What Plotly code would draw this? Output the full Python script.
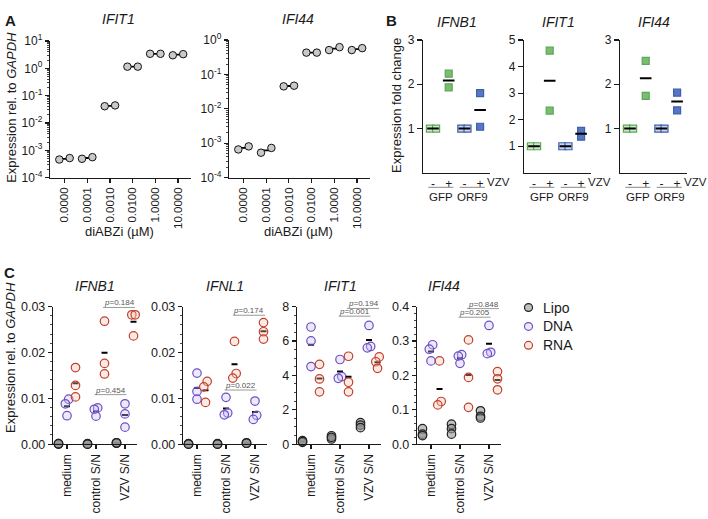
import numpy as np
import plotly.graph_objects as go

W, H = 708, 519
FONT = "Arial, Liberation Sans, Helvetica, sans-serif"
INK = "#1a1a1a"

# ---------------- Panel A data ----------------
a_conc_labels = ["0.0000", "0.0001", "0.0010", "0.0100", "1.0000", "10.0000"]
a_ifit1_rep1 = [4.6e-4, 4.9e-4, 0.041, 1.15, 3.4, 3.0]
a_ifit1_rep2 = [5.2e-4, 5.6e-4, 0.044, 1.15, 3.4, 3.3]
a_ifi44_rep1 = [6.6e-4, 5.3e-4, 0.045, 0.43, 0.51, 0.51]
a_ifi44_rep2 = [8.1e-4, 7.3e-4, 0.047, 0.43, 0.62, 0.58]

# ---------------- Panel B data ----------------
b_vzv_labels = ["-", "+", "-", "+"]
b_constructs = ["GFP", "ORF9"]
b_ifnb1_rep1 = [1.0, 2.24, 1.0, 1.80]
b_ifnb1_rep2 = [1.0, 1.93, 1.0, 1.04]
b_ifit1_rep1 = [1.0, 4.60, 1.0, 1.58]
b_ifit1_rep2 = [1.0, 2.34, 1.0, 1.36]
b_ifi44_rep1 = [1.0, 2.53, 1.0, 1.81]
b_ifi44_rep2 = [1.0, 1.74, 1.0, 1.41]

# ---------------- Panel C data ----------------
c_groups = ["medium", "control S/N", "VZV S/N"]
c_conditions = ["Lipo", "DNA", "RNA"]
c_ifnb1_lipo = [[0.0001, 0.0, 0.0001], [0.0001, 0.0, 0.0], [0.0003, 0.0002, 0.0003]]
c_ifnb1_dna = [[0.0098, 0.0088, 0.0062], [0.0079, 0.0076, 0.0061], [0.0088, 0.0066, 0.0037]]
c_ifnb1_rna = [[0.0167, 0.0128, 0.0103], [0.0268, 0.0176, 0.0153], [0.0282, 0.0282, 0.0236]]
c_ifnl1_lipo = [[0.0, 0.0001, 0.0], [0.0, 0.0001, 0.0], [0.0003, 0.0002, 0.0002]]
c_ifnl1_dna = [[0.0155, 0.0115, 0.0098], [0.0102, 0.0068, 0.0064], [0.0094, 0.0063, 0.0054]]
c_ifnl1_rna = [[0.0137, 0.0125, 0.0091], [0.0224, 0.0154, 0.0144], [0.0265, 0.0245, 0.0229]]
c_ifit1_lipo = [[0.20, 0.10, 0.15], [0.49, 0.30, 0.40], [1.25, 1.11, 0.96]]
c_ifit1_dna = [[6.81, 6.00, 4.51], [4.92, 3.93, 3.83], [6.90, 5.68, 5.60]]
c_ifit1_rna = [[4.64, 3.79, 3.04], [5.11, 3.60, 3.04], [5.07, 4.79, 4.41]]
c_ifi44_lipo = [[0.045, 0.029, 0.025], [0.058, 0.045, 0.029], [0.097, 0.081, 0.076]]
c_ifi44_dna = [[0.289, 0.276, 0.242], [0.260, 0.256, 0.235], [0.345, 0.267, 0.263]]
c_ifi44_rna = [[0.242, 0.124, 0.114], [0.303, 0.194, 0.107], [0.211, 0.190, 0.158]]
c_pvalues_ifnb1 = [("0.184", "RNA", 0.0298), ("0.454", "DNA", 0.0108)]
c_pvalues_ifnl1 = [("0.174", "RNA", 0.0281), ("0.022", "DNA", 0.0118)]
c_pvalues_ifit1 = [("0.194", "RNA", 7.89), ("0.001", "DNA", 7.44)]
c_pvalues_ifi44 = [("0.848", "RNA", 0.394), ("0.205", "DNA", 0.369)]

# ---------------- styling ----------------
LIPO_FILL, LIPO_LINE = "rgba(150,150,150,0.6)", "#222222"
DNA_FILL, DNA_LINE = "rgba(205,190,245,0.35)", "#6b50c2"
RNA_FILL, RNA_LINE = "rgba(245,195,180,0.35)", "#c2402b"
COND_STYLE = {"Lipo": (LIPO_FILL, LIPO_LINE), "DNA": (DNA_FILL, DNA_LINE), "RNA": (RNA_FILL, RNA_LINE)}
GFP_ON, GFP_OFF, GFP_LINE = "#7cbb70", "#cfe9ca", "#58aa58"
ORF_ON, ORF_OFF, ORF_LINE = "#5777c3", "#cad4ef", "#3d5fae"


def X(p):
    return p / W


def Y(p):
    return 1 - p / H


fig = go.Figure()
layout = {}
annotations = []
shapes = []
count = [0]


def new_axes(x0, x1, ytop, ybot, xaxis, yaxis):
    count[0] += 1
    k = count[0]
    sfx = "" if k == 1 else str(k)
    xa, ya = "x" + sfx, "y" + sfx
    base = dict(showline=True, linecolor=INK, linewidth=1.2, showgrid=False, zeroline=False,
                ticks="outside", tickcolor=INK, tickwidth=1.2, ticklen=4,
                tickfont=dict(family=FONT, size=11, color=INK), fixedrange=True)
    xd = dict(base)
    xd.update(domain=[X(x0), X(x1)], anchor=ya)
    xd.update(xaxis)
    yd = dict(base)
    yd.update(domain=[Y(ybot), Y(ytop)], anchor=xa)
    yd.update(yaxis)
    layout["xaxis" + sfx] = xd
    layout["yaxis" + sfx] = yd
    return xa, ya


def dodge(vals, ppu, diam, step, log=False):
    v = np.log10(np.asarray(vals, float)) if log else np.asarray(vals, float)
    ypx = v * ppu
    offs = [0.0] * len(v)
    order = np.argsort(ypx)
    clusters = []
    for idx in order:
        if clusters and abs(ypx[idx] - ypx[clusters[-1][-1]]) < diam * 0.8:
            clusters[-1].append(idx)
        else:
            clusters.append([idx])
    for cl in clusters:
        m = len(cl)
        for j, idx in enumerate(cl):
            offs[idx] = (j - (m - 1) / 2) * step
    return offs


def text(x, y, s, size=11, xref="paper", yref="paper", xanchor="center", yanchor="middle",
         textangle=0, color=INK, bold=False, italic=False):
    if bold:
        s = "<b>" + s + "</b>"
    if italic:
        s = "<i>" + s + "</i>"
    annotations.append(dict(x=x, y=y, xref=xref, yref=yref, text=s, showarrow=False,
                            xanchor=xanchor, yanchor=yanchor, textangle=textangle,
                            font=dict(family=FONT, size=size, color=color)))


def mean_bars(xa, ya, centers, means, half, width=2):
    xs, ys = [], []
    for c, m in zip(centers, means):
        xs += [c - half, c + half, None]
        ys += [m, m, None]
    fig.add_trace(go.Scatter(x=xs, y=ys, xaxis=xa, yaxis=ya, mode="lines",
                             line=dict(color="black", width=width), showlegend=False,
                             hoverinfo="skip", cliponaxis=False))


# ================= Panel A =================
a_panels = [
    ("IFIT1", a_ifit1_rep1, a_ifit1_rep2, 50, 33, 1),
    ("IFI44", a_ifi44_rep1, a_ifi44_rep2, 229, 32, 0),
]
A_SP = 22.7  # px per category
A_W = 141
for title, r1, r2, x0, ytop, ymax in a_panels:
    exps = list(range(-4, ymax + 1))
    minor_vals = [k * 10.0 ** e for e in range(-4, ymax) for k in range(2, 10)]
    xa, ya = new_axes(
        x0, x0 + A_W, ytop, 174,
        dict(range=[-14.5 / A_SP, (A_W - 14.5) / A_SP], tickmode="array",
             tickvals=list(range(len(a_conc_labels))), ticktext=a_conc_labels, tickangle=-90,
             tickfont=dict(family=FONT, size=11.5, color=INK)),
        dict(type="log", range=[-4, ymax], tickmode="array", tickvals=[10.0 ** e for e in exps],
             ticktext=["10<sup>%d</sup>" % e for e in exps],
             tickfont=dict(family=FONT, size=12, color=INK),
             minor=dict(ticks="outside", ticklen=2, tickcolor=INK, tickwidth=0.8, tickvals=minor_vals)))
    ppu = (174 - ytop) / (ymax + 4)
    xs, ys = [], []
    for i in range(len(a_conc_labels)):
        vals = [r1[i], r2[i]]
        offs = dodge(vals, ppu, 7, 2 * 5.2 / A_SP, log=True)
        if offs[0] == offs[1]:
            offs = [-5.2 / A_SP, 5.2 / A_SP]
        for v, o in zip(vals, offs):
            xs.append(i + o)
            ys.append(v)
    means = [10 ** np.mean(np.log10([r1[i], r2[i]])) for i in range(len(r1))]
    mean_bars(xa, ya, list(range(len(r1))), means, 0.24, width=1.8)
    fig.add_trace(go.Scatter(x=xs, y=ys, xaxis=xa, yaxis=ya, mode="markers",
                             marker=dict(symbol="circle", size=7.5, color="#c9c9c9",
                                         line=dict(color="#111", width=1)),
                             showlegend=False, cliponaxis=False))
    text(X(x0 + A_W / 2 - 2), Y(10), title, size=14, italic=True)
    text(X(x0 + A_W / 2 - 1), Y(230), "diABZi (µM)", size=13)

text(X(12), Y(102), "Expression rel. to <i>GAPDH</i>", size=13, textangle=-90)
text(X(10), Y(12), "A", size=15, bold=True)

# ================= Panel B =================
b_panels = [
    ("IFNB1", b_ifnb1_rep1, b_ifnb1_rep2, 423, 3),
    ("IFIT1", b_ifit1_rep1, b_ifit1_rep2, 524, 5),
    ("IFI44", b_ifi44_rep1, b_ifi44_rep2, 620, 3),
]
B_SP = 15.7
B_W = 67
B_TOP, B_BOT = 32, 169
for title, r1, r2, x0, ymax in b_panels:
    xa, ya = new_axes(
        x0, x0 + B_W, B_TOP, B_BOT,
        dict(range=[-10 / B_SP, (B_W - 10) / B_SP], tickmode="array", tickvals=[0, 1, 2, 3],
             ticktext=b_vzv_labels, ticks="", ticklen=0,
             tickfont=dict(family=FONT, size=12, color=INK)),
        dict(range=[0, ymax], tickmode="array", tickvals=list(range(1, ymax + 1)),
             tickfont=dict(family=FONT, size=12, color=INK), ticklen=5))
    ppu = (B_BOT - B_TOP) / ymax
    means = []
    for i in range(4):
        vals = [r1[i], r2[i]]
        offs = dodge(vals, ppu, 7, 6.2 / B_SP)
        on = b_vzv_labels[i] == "+"
        if i < 2:
            fill = GFP_ON if on else GFP_OFF
            lc = GFP_LINE
        else:
            fill = ORF_ON if on else ORF_OFF
            lc = ORF_LINE
        fig.add_trace(go.Scatter(x=[i + o for o in offs], y=vals, xaxis=xa, yaxis=ya, mode="markers",
                                 marker=dict(symbol="square", size=7, color=fill,
                                             line=dict(color=lc, width=1.2)),
                                 showlegend=False, cliponaxis=False))
        means.append(np.mean(vals))
    mean_bars(xa, ya, [0, 1, 2, 3], means, 0.37, width=2)
    for g, name in enumerate(b_constructs):
        c0, c1 = 2 * g, 2 * g + 1
        shapes.append(dict(type="line", xref=xa, yref="paper", x0=c0 - 0.3, x1=c1 + 0.3,
                           y0=Y(184), y1=Y(184), line=dict(color="#8a8a8a", width=1)))
        text((c0 + c1) / 2, Y(194), name, size=11.5, xref=xa)
    text(X(x0 + 75), Y(178), "VZV", size=11.5)
    text(X(x0 + 34), Y(13), title, size=14, italic=True)

text(X(397), Y(100), "Expression fold change", size=13, textangle=-90)
text(X(391), Y(12), "B", size=15, bold=True)

# ================= Panel C =================
c_panels = [
    ("IFNB1", c_ifnb1_lipo, c_ifnb1_dna, c_ifnb1_rna, 53, 0.03, [0, 0.01, 0.02, 0.03], ".2f", 0.002, 95, c_pvalues_ifnb1),
    ("IFNL1", c_ifnl1_lipo, c_ifnl1_dna, c_ifnl1_rna, 183, 0.03, [0, 0.01, 0.02, 0.03], ".2f", 0.002, 225, c_pvalues_ifnl1),
    ("IFIT1", c_ifit1_lipo, c_ifit1_dna, c_ifit1_rna, 297, 8, [0, 2, 4, 6, 8], "d", 0.5, 340, c_pvalues_ifit1),
    ("IFI44", c_ifi44_lipo, c_ifi44_dna, c_ifi44_rna, 417, 0.4, [0, 0.1, 0.2, 0.3, 0.4], ".1f", 0.02, 444, c_pvalues_ifi44),
]
C_SP = 29.0
C_W = 84
C_TOP, C_BOT = 307, 449
COND_OFF = {"Lipo": -8.5 / C_SP, "DNA": 0.0, "RNA": 8.5 / C_SP}
for title, lipo, dna, rna, x0, ymax, ticks, fmt, mdt, tx, pvals in c_panels:
    xa, ya = new_axes(
        x0, x0 + C_W, C_TOP, C_BOT,
        dict(range=[-14 / C_SP, (C_W - 14) / C_SP], tickmode="array", tickvals=[0, 1, 2],
             ticktext=c_groups, tickangle=-90, tickfont=dict(family=FONT, size=12, color=INK)),
        dict(range=[0, ymax], tickmode="array", tickvals=ticks, tickformat=fmt,
             tickfont=dict(family=FONT, size=12.5, color=INK),
             minor=dict(ticks="outside", ticklen=2, tickcolor=INK, tickwidth=0.8, dtick=mdt, tick0=0)))
    ppu = (C_BOT - C_TOP) / ymax
    for cond, data in zip(c_conditions, [lipo, dna, rna]):
        fill, lc = COND_STYLE[cond]
        xs, ys, centers, means = [], [], [], []
        for g in range(3):
            base_x = g + COND_OFF[cond]
            offs = [0.0] * 3 if cond == "Lipo" else dodge(data[g], ppu, 8, 3.4 / C_SP)
            for v, o in zip(data[g], offs):
                xs.append(base_x + o)
                ys.append(v)
            centers.append(base_x)
            means.append(np.mean(data[g]))
        mean_bars(xa, ya, centers, means, 3.0 / C_SP, width=2)
        fig.add_trace(go.Scatter(x=xs, y=ys, xaxis=xa, yaxis=ya, mode="markers",
                                 marker=dict(symbol="circle", size=8.5, color=fill,
                                             line=dict(color=lc, width=1.2)),
                                 showlegend=False, cliponaxis=False))
    for pv, cond, yv in pvals:
        off = COND_OFF[cond]
        shapes.append(dict(type="line", xref=xa, yref=ya, x0=1 + off - 0.05, x1=2 + off + 0.05,
                           y0=yv, y1=yv, line=dict(color="#9a9a9a", width=1)))
        annotations.append(dict(x=1.5 + off, y=yv, xref=xa, yref=ya, text="<i>p</i>=" + pv,
                                showarrow=False, xanchor="center", yanchor="bottom", yshift=-2,
                                font=dict(family=FONT, size=8, color="#555")))
    text(X(tx), Y(286), title, size=14, italic=True)

text(X(11), Y(360), "Expression rel. to <i>GAPDH</i>", size=13, textangle=-90)
text(X(9), Y(272), "C", size=15, bold=True)

# legend (manual)
for i, cond in enumerate(c_conditions):
    fill, lc = COND_STYLE[cond]
    yc = 308 + 19.5 * i
    shapes.append(dict(type="circle", xref="paper", yref="paper",
                       x0=X(524.5), x1=X(532.5), y0=Y(yc + 4), y1=Y(yc - 4),
                       fillcolor=fill, line=dict(color=lc, width=1.2)))
    text(X(541), Y(yc), cond, size=14, xanchor="left")

layout.update(dict(width=W, height=H, margin=dict(l=0, r=0, t=0, b=0),
                   paper_bgcolor="white", plot_bgcolor="white", showlegend=False,
                   annotations=annotations, shapes=shapes, hovermode=False,
                   font=dict(family=FONT, color=INK)))
fig.update_layout(**layout)
fig.write_html("out.html", config={"displayModeBar": False, "staticPlot": True},
               post_script="document.body.style.margin='0';document.body.style.overflow='hidden';")
